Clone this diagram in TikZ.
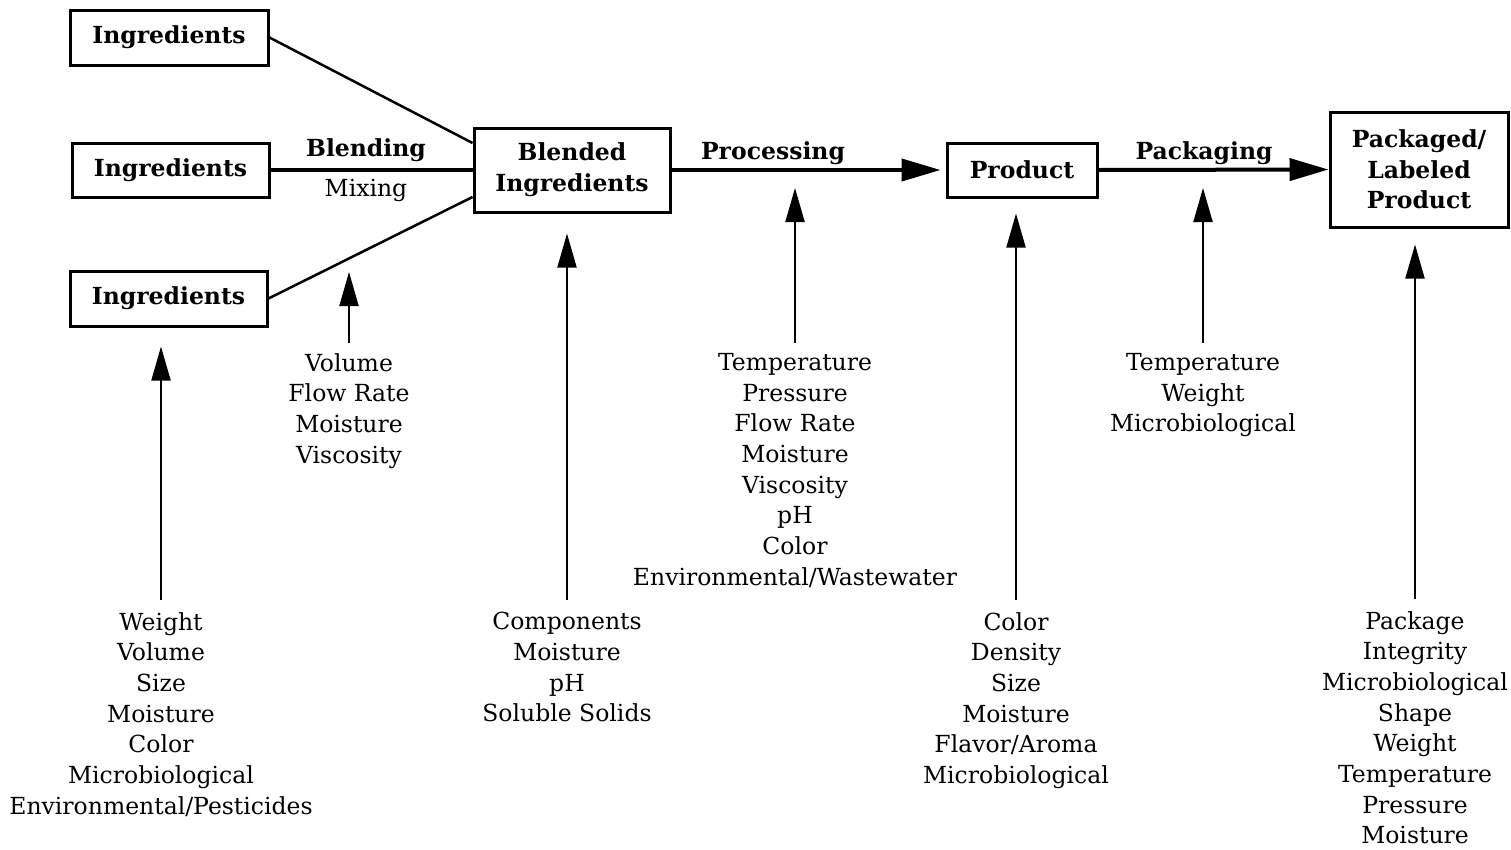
\documentclass[tikz,border=0pt]{standalone}
\usepackage{fontspec}
\setmainfont{DejaVu Serif}
\usetikzlibrary{arrows.meta}
\newcommand{\dgfont}{\fontsize{23.5}{30.7}\selectfont}
\begin{document}
\begin{tikzpicture}[x=1pt,y=-1pt,
  box/.style={draw,line width=3pt,inner sep=0pt,font=\bfseries\dgfont,align=center},
  lbl/.style={font=\bfseries\dgfont,inner sep=0pt,anchor=base},
  sublbl/.style={font=\dgfont,inner sep=0pt,anchor=base},
  col/.style={font=\dgfont,align=center,inner sep=0pt,anchor=north},
  uparrow/.style={line width=2pt,-{Triangle[length=34pt,width=19pt]}},
  mainline/.style={line width=4pt},
  mainarrow/.style={line width=4pt,-{Triangle[length=39pt,width=22pt]}},
  diag/.style={line width=2.5pt}]
\useasboundingbox (0,0) rectangle (1511,849);

% boxes
\node[box,minimum width=198pt,minimum height=55pt] (ing1) at (169,37.5) {Ingredients};
\node[box,minimum width=197pt,minimum height=54pt] (ing2) at (170.5,170) {Ingredients};
\node[box,minimum width=197pt,minimum height=55pt] (ing3) at (168.5,298.5) {Ingredients};
\node[box,minimum width=196pt,minimum height=84pt] (blend) at (572,170) {Blended\\Ingredients};
\node[box,minimum width=150pt,minimum height=54pt] (prod) at (1022,170) {Product};
\node[box,minimum width=178pt,minimum height=115pt] (pack) at (1419,169.5) {Packaged/\\Labeled\\Product};

% connectors
\draw[diag] (ing1.east) -- ([yshift=27pt]blend.west);
\draw[diag] (ing3.east) -- ([yshift=-27pt]blend.west);
\draw[mainline] (ing2.east) -- (blend.west);
\draw[mainarrow,shorten >=5pt] (blend.east) -- (prod.west);
\draw[mainarrow] (prod.east) -- (pack.west);

% step labels
\node[lbl] (blending) at (366,156) {Blending};
\node[sublbl] (mixing) at (366,196) {Mixing};
\node[lbl] (processing) at (773,159) {Processing};
\node[lbl] (packaging) at (1204,159) {Packaging};

% measurement columns
\node[col] (c1) at (161,612) {Weight\\Volume\\Size\\Moisture\\Color\\Microbiological\\Environmental/Pesticides};
\node[col] (c2) at (349,353) {Volume\\Flow Rate\\Moisture\\Viscosity};
\node[col] (c3) at (567,612) {Components\\Moisture\\pH\\Soluble Solids};
\node[col] (c4) at (795,353) {Temperature\\Pressure\\Flow Rate\\Moisture\\Viscosity\\pH\\Color\\Environmental/Wastewater};
\node[col] (c5) at (1016,612) {Color\\Density\\Size\\Moisture\\Flavor/Aroma\\Microbiological};
\node[col] (c6) at (1203,353) {Temperature\\Weight\\Microbiological};
\node[col] (c7) at (1415,611) {Package\\Integrity\\Microbiological\\Shape\\Weight\\Temperature\\Pressure\\Moisture};

% arrow tips pointing at connectors
\coordinate (t2) at (349,272);
\coordinate (t4) at (795,188);
\coordinate (t6) at (1203,188);

\draw[uparrow] ([yshift=12pt]c1.north) -- ([yshift=-19pt]c1.north |- ing3.south);
\draw[uparrow] ([yshift=10pt]c2.north) -- (t2);
\draw[uparrow] ([yshift=12pt]c3.north) -- ([yshift=-20pt]c3.north |- blend.south);
\draw[uparrow] ([yshift=10pt]c4.north) -- (t4);
\draw[uparrow] ([yshift=12pt]c5.north) -- ([yshift=-15pt]c5.north |- prod.south);
\draw[uparrow] ([yshift=10pt]c6.north) -- (t6);
\draw[uparrow] ([yshift=12pt]c7.north) -- ([yshift=-16pt]c7.north |- pack.south);
\end{tikzpicture}
\end{document}
